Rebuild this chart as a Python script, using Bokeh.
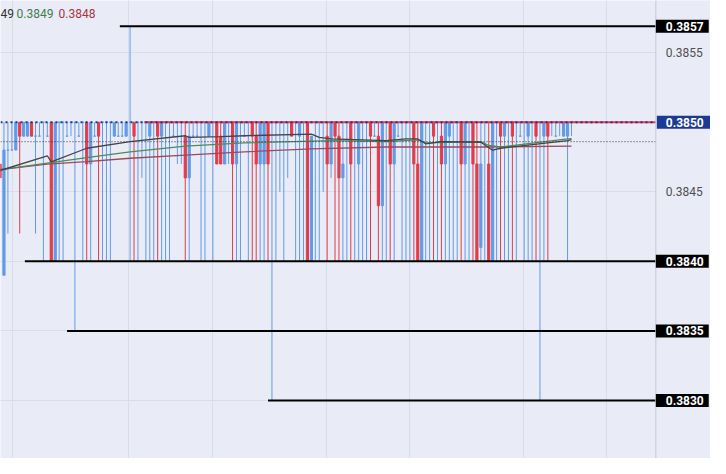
from bokeh.plotting import figure
from bokeh.models import Range1d, FixedTicker, Label, BoxAnnotation, Span
from bokeh.embed import file_html
from bokeh.resources import INLINE

# ---------------- data ----------------
opens = [
    .3847, .3839, .3848, .3848, .3848, .3850, .3849, .3849, .3850, .3849,
    .3849, .3850, .3849, .3850, .3840, .3850, .3850, .3849, .3850, .3850,
    .3849, .3850, .3850, .3847, .3849, .3850, .3850, .3850, .3850, .3849,
    .3849, .3849, .3849, .3850, .3850, .3850, .3850, .3850, .3849, .3850,
    .3850, .3849, .3850, .3850, .3849, .3850, .3850, .3849, .3846, .3849,
    .3849, .3850, .3850, .3849, .3850, .3850, .3849, .3847, .3850, .3850,
    .3847, .3850, .3849, .3850, .3850, .3849, .3847, .3847, .3850, .3850,
    .3850, .3850, .3850, .3850, .3850, .3850, .3849, .3850, .3850, .3840,
    .3850, .3850, .3850, .3849, .3847, .3850, .3849, .3846, .3850, .3850,
    .3850, .3847, .3850, .3850, .3850, .3849, .3849, .3844, .3850, .3850,
    .3847, .3849, .3850, .3850, .3850, .3850, .3847, .3840, .3850, .3850,
    .3850, .3850, .3849, .3847, .3849, .3850, .3850, .3850, .3847, .3850,
    .3850, .3847, .3841, .3850, .3847, .3840, .3850, .3850, .3849, .3850,
    .3850, .3850, .3849, .3850, .3849, .3850, .3850, .3850, .3849, .3850,
    .3850, .3849, .3850, .3849, .3849, .3850,
]
closes = [
    .3846, .3848, .3848, .3848, .3850, .3849, .3850, .3850, .3849, .3849,
    .3849, .3850, .3849, .3840, .3850, .3850, .3850, .3849, .3850, .3850,
    .3849, .3850, .3847, .3850, .3849, .3849, .3850, .3850, .3850, .3850,
    .3849, .3849, .3850, .3850, .3849, .3850, .3850, .3850, .3850, .3850,
    .3849, .3850, .3850, .3850, .3849, .3850, .3850, .3846, .3849, .3849,
    .3849, .3850, .3850, .3850, .3850, .3847, .3847, .3850, .3850, .3847,
    .3850, .3850, .3849, .3850, .3849, .3847, .3850, .3850, .3847, .3850,
    .3850, .3850, .3850, .3850, .3849, .3850, .3850, .3850, .3840, .3849,
    .3850, .3850, .3850, .3847, .3850, .3849, .3846, .3847, .3850, .3847,
    .3850, .3850, .3850, .3850, .3849, .3849, .3844, .3850, .3850, .3847,
    .3850, .3849, .3850, .3850, .3850, .3847, .3840, .3850, .3850, .3850,
    .3849, .3850, .3847, .3850, .3850, .3850, .3850, .3847, .3850, .3850,
    .3847, .3840, .3847, .3850, .3840, .3850, .3850, .3849, .3850, .3850,
    .3849, .3850, .3849, .3850, .3850, .3850, .3849, .3850, .3850, .3849,
    .3850, .3849, .3850, .3850, .3850, .3850,
]
highs = [
    .3847, .3850, .3850, .3850, .3850, .3850, .3850, .3850, .3850, .3850,
    .3850, .3850, .3850, .3850, .3850, .3850, .3850, .3850, .3850, .3850,
    .3850, .3850, .3850, .3850, .3850, .3850, .3850, .3850, .3850, .3850,
    .3850, .3850, .3850, .38569, .3850, .3850, .3850, .3850, .3850, .3850,
    .3850, .3850, .3850, .3850, .3850, .3850, .3850, .3850, .3850, .3850,
    .3850, .3850, .3850, .3850, .3850, .3850, .3850, .3850, .3850, .3850,
    .3850, .3850, .3850, .3850, .3850, .3850, .3850, .3850, .3850, .3850,
    .3850, .3850, .3850, .3850, .3850, .3850, .3850, .3850, .3850, .3849,
    .3850, .3850, .3850, .3850, .3850, .3850, .3850, .3850, .3850, .3850,
    .3850, .3850, .3850, .3850, .3850, .3850, .3850, .3850, .3850, .3850,
    .3850, .3850, .3850, .3850, .3850, .3850, .3850, .3850, .3850, .3850,
    .3850, .3850, .3850, .3850, .3850, .3850, .3850, .3850, .3850, .3850,
    .3850, .3850, .3850, .3850, .3850, .3850, .3850, .3850, .3850, .3850,
    .3850, .3850, .3850, .3850, .3850, .3850, .3850, .3850, .3850, .3850,
    .3850, .3850, .3850, .3850, .3850, .3850,
]
lows = [
    .3846, .3839, .3842, .3848, .3848, .3842, .3849, .3849, .3849, .3842,
    .3849, .3840, .3849, .3840, .3840, .3840, .3840, .3849, .3849, .3835,
    .3849, .3840, .3840, .3840, .3849, .3840, .3840, .3840, .3840, .3849,
    .3849, .3849, .3849, .3840, .3840, .3840, .3846, .3840, .3840, .3840,
    .3840, .3840, .3840, .3840, .3849, .3847, .3847, .3840, .3840, .3849,
    .3849, .3840, .3840, .3849, .3840, .3847, .3847, .3847, .3847, .3840,
    .3840, .3840, .3849, .3840, .3840, .3840, .3840, .3840, .3840, .3830,
    .3840, .3845, .3840, .3846, .3849, .3840, .3840, .3840, .3840, .3840,
    .3840, .3840, .3845, .3840, .3846, .3840, .3840, .3840, .3840, .3840,
    .3840, .3840, .3840, .3840, .3840, .3849, .3840, .3840, .3840, .3840,
    .3840, .3849, .3840, .3840, .3840, .3840, .3840, .3840, .3840, .3840,
    .3840, .3840, .3840, .3840, .3840, .3840, .3840, .3840, .3840, .3840,
    .3840, .3840, .3840, .3840, .3840, .3840, .3840, .3840, .3840, .3840,
    .3840, .3840, .3849, .3840, .3840, .3840, .3840, .3830, .3840, .3840,
    .3849, .3849, .3849, .3849, .3840, .3849,
]

# moving averages, read at sample candles
ma_fast_idx = [0, 12, 13, 22, 33, 47, 48, 56, 62, 79, 81, 84, 98, 103, 106, 108, 112, 122, 125, 127, 144, 145]
ma_fast = [.384653, .384759, .384715, .384813, .384861, .384903, .384891, .384896, .384903, .384915, .384891,
           .384880, .384868, .384880, .384880, .384845, .384861, .384856, .384799, .384813, .384868, .384875]
ma_mid_idx = [0, 12, 22, 33, 47, 62, 84, 98, 106, 108, 122, 124, 127, 144, 145]
ma_mid = [.384660, .384706, .384745, .384787, .384828, .384852, .384868, .384861, .384873, .384852, .384861,
          .384833, .384822, .384880, .384882]
ma_slow_idx = [0, 12, 22, 33, 47, 62, 79, 98, 122, 145]
ma_slow = [.384660, .384699, .384717, .384741, .384764, .384787, .384808, .384822, .384822, .384828]

# horizontal levels drawn on the chart and where they start (candle index)
levels = [0.38569, 0.3840, 0.3835, 0.3830]
level_labels = ["0.3857", "0.3840", "0.3835", "0.3830"]
level_start = [30.4, 6.3, 17.0, 68.0]
last_price = 0.3850
last_label = "0.3850"
red_line_start = 36.6
dotted_level = 0.38486
time_grid = [3.1, 32.6, 54.0, 82.8, 103.8, 132.9, 154.0]
price_grid = [0.3830, 0.3835, 0.3840, 0.3845, 0.3850, 0.3855, 0.3860]
scale_ticks = [0.3845, 0.3855]
scale_tick_labels = ["0.3845", "0.3855"]

# ---------------- figure ----------------
W, H = 710, 458
BG = "#e9ecf6"
BLUE = "#629be6"
RED = "#e23b4a"
FONT = "Roboto"

X0, XE, X1 = 0.12, 166.4, 180.27      # left edge, price-scale edge, right edge (candle index units)
p = figure(width=W, height=H, output_backend="svg", toolbar_location=None,
           x_range=Range1d(X0, X1), y_range=Range1d(0.382583, 0.385875),
           min_border=0)
p.background_fill_color = BG
p.border_fill_color = BG
p.outline_line_color = None
p.xaxis.visible = False
p.yaxis.visible = False
p.xgrid.ticker = FixedTicker(ticks=time_grid)
p.ygrid.ticker = FixedTicker(ticks=price_grid)
p.grid.grid_line_color = "#d9dde9"
p.grid.grid_line_width = 1

idx = list(range(len(opens)))
up = [c >= o for o, c in zip(opens, closes)]
colors = [BLUE if u else RED for u in up]
tops = [max(o, c) for o, c in zip(opens, closes)]
bots = [min(o, c) for o, c in zip(opens, closes)]

# wicks and bodies
p.segment(x0=idx, y0=highs, x1=idx, y1=lows, line_color=colors, line_width=1)
p.vbar(x=idx, width=0.55, top=tops, bottom=bots, fill_color=colors, line_color=colors, line_width=1)

# moving averages
p.line(ma_slow_idx, ma_slow, line_color="#9b4a57", line_width=1.3)
p.line(ma_mid_idx, ma_mid, line_color="#4f8a58", line_width=1.3)
p.line(ma_fast_idx, ma_fast, line_color="#454545", line_width=1.3)

# dotted level
p.segment(x0=[X0], y0=[dotted_level], x1=[XE], y1=[dotted_level], line_color="#333333",
          line_width=1, line_dash="1 2")

# horizontal black levels
p.segment(x0=level_start, y0=levels, x1=[XE] * len(levels), y1=levels, line_color="black", line_width=2)

# last price lines
p.segment(x0=[red_line_start], y0=[last_price], x1=[XE], y1=[last_price], line_color="#e5394a", line_width=2)
p.segment(x0=[X0], y0=[last_price], x1=[XE], y1=[last_price], line_color="#1b3a93", line_width=2,
          line_dash="2 3")

# price scale panel on the right
p.add_layout(BoxAnnotation(left=XE, fill_color=BG, fill_alpha=1.0, line_color=None))
p.add_layout(Span(location=XE, dimension="height", line_color="#c6c9d4", line_width=1))

for lv, txt in zip(scale_ticks, scale_tick_labels):
    p.add_layout(Label(x=XE, y=lv, x_offset=10, text=txt, text_color="#505050", text_font=FONT,
                       text_font_size="12px", text_align="left", text_baseline="middle"))

pad = dict(left=10, right=5, top=2, bottom=2)
for lv, txt in zip(levels, level_labels):
    p.add_layout(Label(x=XE, y=lv, x_offset=0, text=txt,
                       text_color="white", text_font=FONT, text_font_style="bold",
                       text_font_size="12px", text_align="left", text_baseline="middle",
                       background_fill_color="black", padding=pad))
p.add_layout(Label(x=XE, y=last_price, x_offset=1, text=last_label,
                   text_color="white", text_font=FONT, text_font_style="bold",
                   text_font_size="12px", text_align="left", text_baseline="middle",
                   background_fill_color="#1b3a93", padding=dict(left=9, right=10, top=2, bottom=2)))

# legend text top-left
for xs, txt, col in [(0, "49", "#333333"), (16, "0.3849", "#3f7d4c"), (58, "0.3848", "#a8343f")]:
    p.add_layout(Label(x=xs, y=H - 13, x_units="screen", y_units="screen", text=txt,
                       text_color=col, text_font=FONT, text_font_size="12px",
                       text_align="left", text_baseline="middle"))

open("out.html", "w").write(file_html(p, INLINE))
